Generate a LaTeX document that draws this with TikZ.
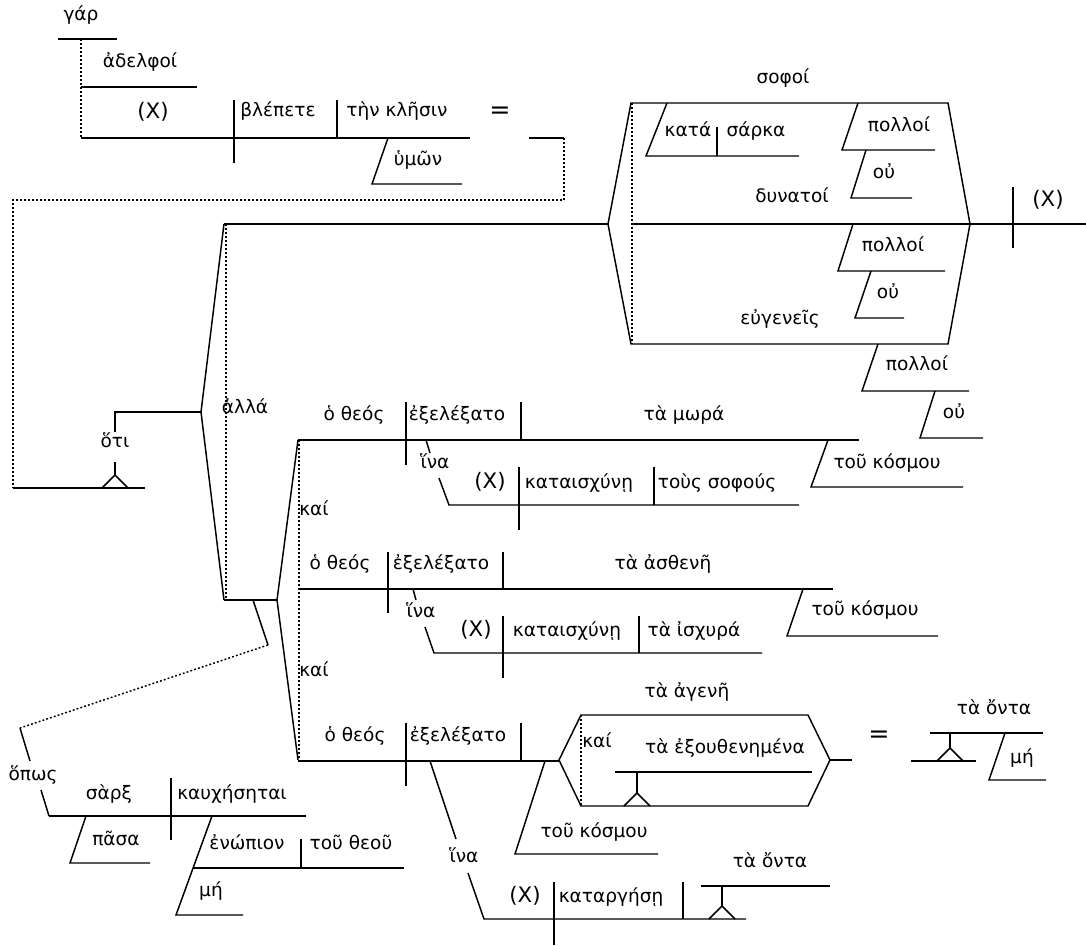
\documentclass[tikz,border=0pt]{standalone}
\usepackage{fontspec}
\setmainfont{DejaVu Sans}
\begin{document}
\begin{tikzpicture}[x=0.75pt,y=-0.75pt,line width=1.1pt,line join=miter,
  txt/.style={anchor=mid,inner sep=0pt,font=\fontsize{13.9}{16}\selectfont},
  latin/.style={anchor=mid,inner sep=0pt,font=\fontsize{16}{18}\selectfont},
  eqs/.style={anchor=mid,inner sep=0pt,font=\fontsize{19}{20}\selectfont},
  dots/.style={dash pattern=on 1.4pt off 1.6pt},
  pedestal/.pic={\draw (-13,0) -- (0,-13) -- (13,0);}]
\useasboundingbox (0,0) rectangle (1086,946);

% ---------- opening clause: gar, adelphoi, (X) blepete ten klesin
\draw (58,39) -- (117,39);
\draw[dots] (81,39) -- (81,138);
\draw (81,87) -- (197,87);
\draw (81,138) -- (470,138);
\draw (234,100) -- (234,163);
\draw (337,100) -- (337,138);
\draw (388,138) -- (372,184) -- (462,184);
\draw (529,138) -- (564,138);
\draw[dots] (564,138) -- (564,200) -- (13,200) -- (13,488);
\node[txt] (gar) at (81,17) {γάρ};
\node[txt] (adelphoi) at (140,64) {ἀδελφοί};
\node[latin] (x1) at (153,115) {(X)};
\node[txt] (blepete) at (278,113) {βλέπετε};
\node[txt] (klesin) at (397,113) {τὴν κλῆσιν};
\node[txt] (hymon) at (418,162) {ὑμῶν};
\node[eqs] (eq1) at (500,115) {=};

% ---------- hoti clause on its pedestal
\draw (13,488) -- (145,488);
\pic at (115,488) {pedestal};
\draw (115,475) -- (115,462);
\draw (115,432) -- (115,412) -- (201,412);
\node[txt] (hoti) at (115,444) {ὅτι};

% ---------- alla fork
\draw (224,224) -- (201,412) -- (224,600);
\draw[dots] (226,224) -- (226,600);
\node[txt] (alla) at (245,410) {ἀλλά};

% ---------- compound predicate: sophoi, dynatoi, eugeneis
\draw (224,224) -- (608,224);
\draw (608,224) -- (631,103) -- (948,103) -- (970,224) -- (948,344) -- (631,344) -- cycle;
\draw[dots] (632,103) -- (632,344);
\draw (632,224) -- (1086,224);
\draw (1013,187) -- (1013,248);
\node[latin] (x2) at (1048,203) {(X)};
\node[txt] (sophoi) at (783,80) {σοφοί};
\node[txt] (dynatoi) at (792,199) {δυνατοί};
\node[txt] (eugeneis) at (780,321) {εὐγενεῖς};
% kata sarka
\draw (667,103) -- (646,156) -- (799,156);
\draw (717,127) -- (717,156);
\node[txt] (kata) at (688,133) {κατά};
\node[txt] (sarka) at (756,133) {σάρκα};
% polloi / ou under sophoi
\draw (858,103) -- (842,150) -- (935,150);
\draw (866,150) -- (851,198) -- (912,198);
\node[txt] (polloi1) at (899,128) {πολλοί};
\node[txt] (ou1) at (884,175) {οὐ};
% polloi / ou under dynatoi
\draw (853,224) -- (838,271) -- (945,271);
\draw (871,271) -- (855,318) -- (904,318);
\node[txt] (polloi2) at (893,248) {πολλοί};
\node[txt] (ou2) at (888,295) {οὐ};
% polloi / ou under eugeneis
\draw (878,344) -- (862,391) -- (969,391);
\draw (935,391) -- (920,438) -- (983,438);
\node[txt] (polloi3) at (917,367) {πολλοί};
\node[txt] (ou3) at (954,415) {οὐ};

% ---------- kai fork of the three clauses
\draw (224,600) -- (277,600);
\draw (298,440) -- (277,600) -- (298,760);
\draw[dots] (299,440) -- (299,760);
\node[txt] (kai1) at (314,512) {καί};
\node[txt] (kai2) at (314,673) {καί};

% ---------- clause 1
\draw (298,440) -- (859,440);
\draw (406,402) -- (406,465);
\draw (521,402) -- (521,440);
\node[txt] (theos1) at (354,417) {ὁ θεός};
\node[txt] (exel1) at (457,417) {ἐξελέξατο};
\node[txt] (mora) at (684,417) {τὰ μωρά};
\draw (828,440) -- (811,487) -- (963,487);
\node[txt] (kosmou1) at (887,465) {τοῦ κόσμου};
\draw (426,440) -- (430,453);
\node[txt] (hina1) at (435,465) {ἵνα};
\draw (439,478) -- (449,505) -- (799,505);
\draw (519,467) -- (519,530);
\draw (654,467) -- (654,505);
\node[latin] (x3) at (490,485) {(X)};
\node[txt] (kataisch1) at (579,485) {καταισχύνῃ};
\node[txt] (sophous) at (717,485) {τοὺς σοφούς};

% ---------- clause 2
\draw (298,589) -- (833,589);
\draw (388,552) -- (388,613);
\draw (503,552) -- (503,589);
\node[txt] (theos2) at (340,566) {ὁ θεός};
\node[txt] (exel2) at (441,566) {ἐξελέξατο};
\node[txt] (asthene) at (663,566) {τὰ ἀσθενῆ};
\draw (803,589) -- (787,636) -- (938,636);
\node[txt] (kosmou2) at (865,612) {τοῦ κόσμου};
\draw (413,589) -- (416,600);
\node[txt] (hina2) at (421,614) {ἵνα};
\draw (425,627) -- (434,653) -- (762,653);
\draw (503,616) -- (503,678);
\draw (639,616) -- (639,653);
\node[latin] (x4) at (476,633) {(X)};
\node[txt] (kataisch2) at (567,633) {καταισχύνῃ};
\node[txt] (ischyra) at (694,633) {τὰ ἰσχυρά};

% ---------- clause 3
\draw (298,761) -- (559,761);
\draw (406,723) -- (406,786);
\draw (521,723) -- (521,761);
\node[txt] (theos3) at (355,738) {ὁ θεός};
\node[txt] (exel3) at (458,738) {ἐξελέξατο};
\draw (545,761) -- (515,854) -- (658,854);
\node[txt] (kosmou3) at (594,834) {τοῦ κόσμου};
% compound object agene / exouthenemena
\draw (559,760) -- (581,715) -- (808,715) -- (830,760) -- (808,806) -- (581,806) -- cycle;
\draw[dots] (581,715) -- (581,806);
\node[txt] (agene) at (687,694) {τὰ ἀγενῆ};
\node[txt] (kai3) at (597,744) {καί};
\draw (615,772) -- (812,772);
\pic at (637,806) {pedestal};
\draw (637,793) -- (637,772);
\node[txt] (exouth) at (725,750) {τὰ ἐξουθενημένα};
\draw (830,760) -- (852,760);
\node[eqs] (eq2) at (879,739) {=};
% ta me onta
\draw (911,761) -- (976,761);
\pic at (950,761) {pedestal};
\draw (950,748) -- (950,733);
\draw (930,733) -- (1043,733);
\node[txt] (onta1) at (994,711) {τὰ ὄντα};
\draw (1005,733) -- (989,780) -- (1046,780);
\node[txt] (me1) at (1022,760) {μή};
% hina clause
\draw (430,761) -- (456,839);
\node[txt] (hina3) at (464,859) {ἵνα};
\draw (468,873) -- (484,919) -- (746,919);
\draw (554,882) -- (554,945);
\draw (683,882) -- (683,919);
\node[latin] (x5) at (525,899) {(X)};
\node[txt] (katarg) at (611,899) {καταργήσῃ};
\pic at (722,919) {pedestal};
\draw (722,906) -- (722,886);
\draw (701,886) -- (830,886);
\node[txt] (onta2) at (770,864) {τὰ ὄντα};

% ---------- hopos clause
\draw (253,600) -- (268,645);
\draw[dots] (268,645) -- (20,728);
\draw (20,728) -- (30,761);
\node[txt] (hopos) at (33,777) {ὅπως};
\draw (41,790) -- (49,816);
\draw (49,816) -- (306,816);
\draw (171,778) -- (171,840);
\node[txt] (sarx) at (109,796) {σὰρξ};
\node[txt] (kauch) at (232,796) {καυχήσηται};
\draw (86,816) -- (70,863) -- (150,863);
\node[txt] (pasa) at (116,842) {πᾶσα};
\draw (212,816) -- (176,915) -- (243,915);
\draw (193,868) -- (404,868);
\draw (301,839) -- (301,868);
\node[txt] (enopion) at (247,846) {ἐνώπιον};
\node[txt] (theou) at (351,846) {τοῦ θεοῦ};
\node[txt] (me2) at (211,893) {μή};
\end{tikzpicture}
\end{document}
